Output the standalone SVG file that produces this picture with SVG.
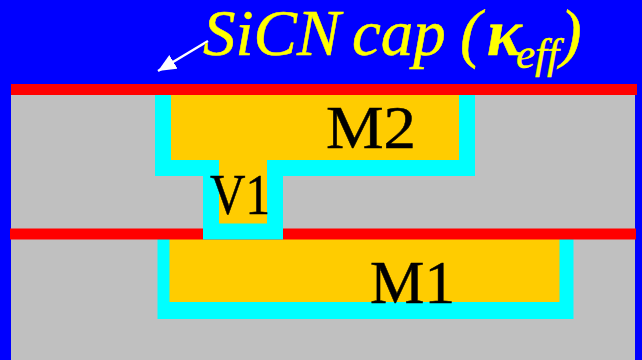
<svg xmlns="http://www.w3.org/2000/svg" width="642" height="360" viewBox="0 0 642 360">
<defs>
<style>
.red{fill:#ff0000}.cy{fill:#00ffff}.au{fill:#ffcc00}
.lb{font-family:"Liberation Serif",serif;font-size:62px;fill:#000;stroke:#000;stroke-width:.5}
.cap{font-family:"Liberation Serif",serif;font-style:italic;fill:#ffff00;stroke:#ffff00;stroke-width:.5;font-size:65px}
</style>
<marker id="ah" markerUnits="userSpaceOnUse" markerWidth="20" markerHeight="18" refX="18" refY="8" orient="auto"><path d="M0 0L18 8L0 16Z" fill="#fff"/></marker>
</defs>
<rect width="642" height="360" fill="#0000ff"/>
<rect x="11" y="95" width="624" height="265" fill="#c0c0c0"/>
<g id="m2">
<rect class="cy" x="155" y="95" width="320" height="81"/>
<rect class="au" x="171" y="95" width="288" height="65"/>
</g>
<g id="m1">
<rect class="cy" x="157.500" y="239" width="416" height="80"/>
<rect class="au" x="169.500" y="239" width="390" height="63"/>
</g>
<g id="cap-top"><rect class="red" x="11" y="84" width="626" height="11"/></g>
<g id="cap-mid"><rect class="red" x="10" y="228.500" width="626" height="11"/></g>
<g id="v1">
<rect class="cy" x="203" y="176" width="80" height="63.500"/>
<rect class="au" x="219" y="160" width="48" height="63.500"/>
</g>
<text class="lb" x="326" y="148" textLength="90" lengthAdjust="spacingAndGlyphs">M2</text>
<text class="lb" x="210" y="214" style="font-size:56px" textLength="60" lengthAdjust="spacingAndGlyphs">V1</text>
<text class="lb" x="370" y="303" textLength="85" lengthAdjust="spacingAndGlyphs">M1</text>
<g id="connectors"><line x1="208" y1="41" x2="158" y2="71" stroke="#fff" stroke-width="2.500" marker-end="url(#ah)"/></g>
<g id="label"><text class="cap" x="203" y="55">SiCN<tspan x="352">cap</tspan><tspan x="460">(</tspan><tspan x="487" font-weight="bold">κ</tspan><tspan x="516" y="68" font-size="43">eff</tspan><tspan x="560" y="55">)</tspan></text></g>
</svg>
